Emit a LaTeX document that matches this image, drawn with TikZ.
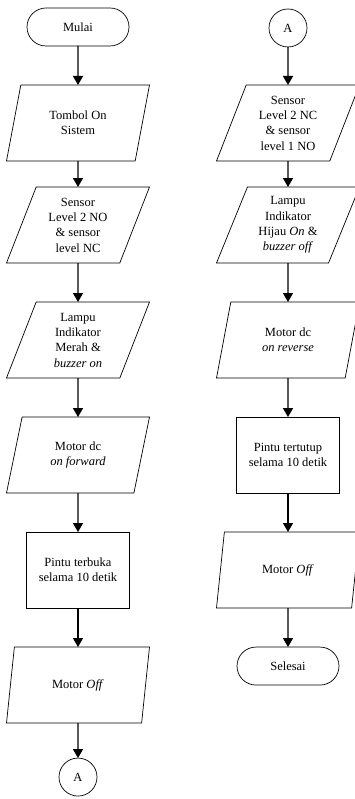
\documentclass[tikz,border=0pt]{standalone}
\usepackage{fontspec}
\setmainfont{Liberation Serif}
\usetikzlibrary{shapes.geometric,arrows.meta,positioning}

\tikzset{
  box/.style={draw,line width=0.7pt,align=center,outer sep=0pt,inner sep=2pt},
  terminal/.style={box,rectangle,rounded corners=19pt,minimum width=102pt,minimum height=38pt},
  io/.style={box,trapezium,trapezium left angle=63,trapezium right angle=117,
    trapezium stretches body,minimum width=143pt,minimum height=76pt},
  process/.style={box,rectangle,minimum width=103pt,minimum height=76pt},
  connector/.style={box,circle,minimum size=38pt,inner sep=0pt},
  arrow/.style={line width=1.4pt,-{Triangle[width=10pt,length=9pt]}}
}

\begin{document}
\begin{tikzpicture}[x=1pt,y=1pt,font=\fontsize{12.5}{15.3}\selectfont]
  \useasboundingbox (0,0) rectangle (354,-799);

  % Kolom kiri
  \node[terminal] (mulai) at (78,-27) {Mulai};
  \node[io, below=39pt of mulai] (tombol) {Tombol On\\Sistem};
  \node[io, below=26pt of tombol] (sensorA) {Sensor\\Level 2 NO\\\& sensor\\level NC};
  \node[io, below=39pt of sensorA] (merah) {Lampu\\Indikator\\Merah \&\\\textit{buzzer on}};
  \node[io, below=39pt of merah] (forward) {Motor dc\\\textit{on forward}};
  \node[process, below=39pt of forward] (buka) {Pintu terbuka\\selama 10 detik};
  \node[io, below=39pt of buka] (offA) {Motor \textit{Off}};
  \node[connector, below=35pt of offA] (keA) {A};

  \draw[arrow] (mulai) -- (tombol);
  \draw[arrow] (tombol) -- (sensorA);
  \draw[arrow] (sensorA) -- (merah);
  \draw[arrow] (merah) -- (forward);
  \draw[arrow] (forward) -- (buka);
  \draw[arrow] (buka) -- (offA);
  \draw[arrow] (offA) -- (keA);

  % Kolom kanan
  \node[connector] (dariA) at (288,-28) {A};
  \node[io, below=38pt of dariA] (sensorB) {Sensor\\Level 2 NC\\\& sensor\\level 1 NO};
  \node[io, below=26pt of sensorB] (hijau) {Lampu\\Indikator\\Hijau \textit{On} \&\\\textit{buzzer off}};
  \node[io, below=39pt of hijau] (reverse) {Motor dc\\\textit{on reverse}};
  \node[process, below=39pt of reverse] (tutup) {Pintu tertutup\\selama 10 detik};
  \node[io, below=39pt of tutup] (offB) {Motor \textit{Off}};
  \node[terminal, below=39pt of offB] (selesai) {Selesai};

  \draw[arrow] (dariA) -- (sensorB);
  \draw[arrow] (sensorB) -- (hijau);
  \draw[arrow] (hijau) -- (reverse);
  \draw[arrow] (reverse) -- (tutup);
  \draw[arrow] (tutup) -- (offB);
  \draw[arrow] (offB) -- (selesai);
\end{tikzpicture}
\end{document}
